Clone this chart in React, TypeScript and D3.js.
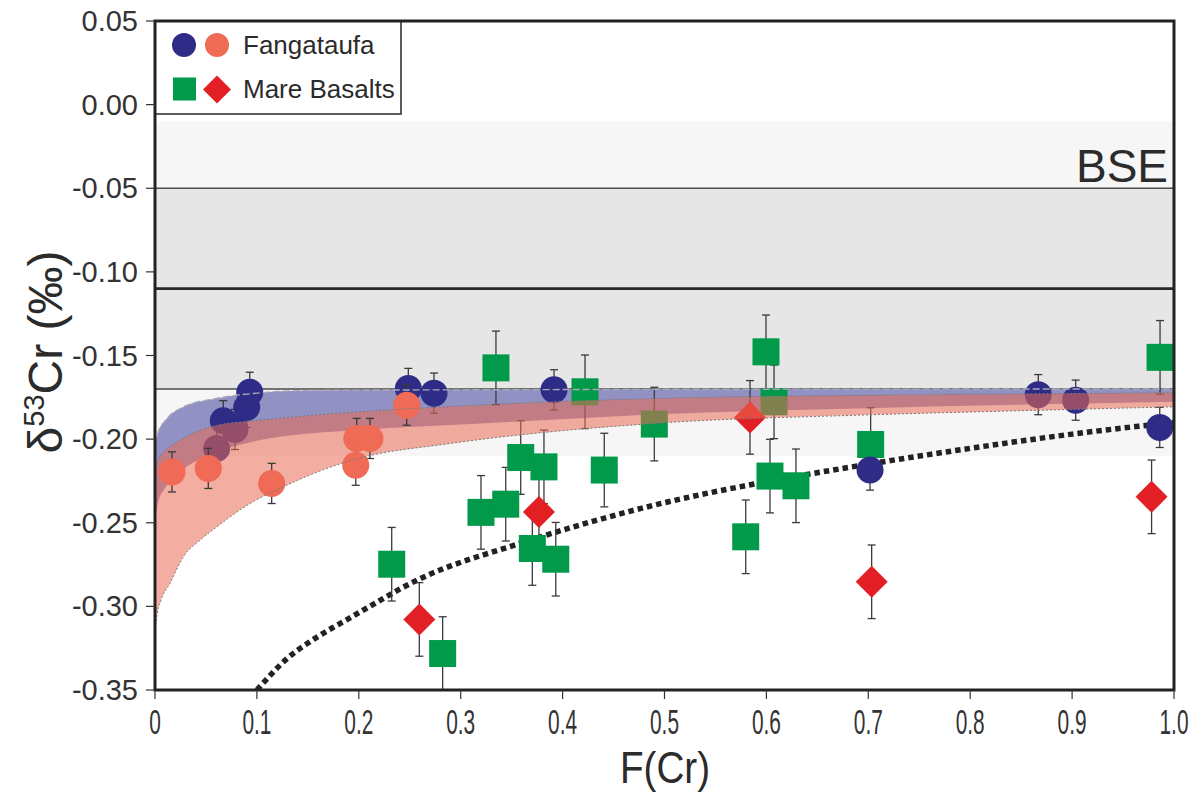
import React from "react";
import * as d3 from "d3";

// ---- axis ticks ----
const xTickValues = [0, 0.1, 0.2, 0.3, 0.4, 0.5, 0.6, 0.7, 0.8, 0.9, 1.0];
const xTickLabels = ["0", "0.1", "0.2", "0.3", "0.4", "0.5", "0.6", "0.7", "0.8", "0.9", "1.0"];
const yTickValues = [0.05, 0, -0.05, -0.1, -0.15, -0.2, -0.25, -0.3, -0.35];
const yTickLabels = ["0.05", "0.00", "-0.05", "-0.10", "-0.15", "-0.20", "-0.25", "-0.30", "-0.35"];

// ---- BSE reference band (mean, inner and outer range) ----
const bseMean = -0.11;
const bseInner = [-0.05, -0.17];
const bseOuter = [-0.01, -0.21];

// ---- Fangataufa samples: [F(Cr), d53Cr, 2sd] ----
const fangataufaBlue: [number, number, number][] = [
  [0.067, -0.189, 0.012],
  [0.0605, -0.2056, 0.012],
  [0.0785, -0.1942, 0.012],
  [0.09, -0.181, 0.012],
  [0.093, -0.172, 0.012],
  [0.2486, -0.1697, 0.012],
  [0.2738, -0.1725, 0.012],
  [0.3916, -0.1705, 0.012],
  [0.7017, -0.2185, 0.012],
  [0.8668, -0.1734, 0.012],
  [0.9035, -0.1767, 0.012],
  [0.986, -0.193, 0.012],
];
const fangataufaRed: [number, number, number][] = [
  [0.0167, -0.2196, 0.012],
  [0.0523, -0.2175, 0.012],
  [0.1145, -0.2265, 0.012],
  [0.197, -0.2156, 0.012],
  [0.198, -0.1996, 0.012],
  [0.211, -0.1996, 0.012],
  [0.247, -0.1797, 0.012],
];

// ---- Mare basalts: [F(Cr), d53Cr, 2sd] ----
const mareSquares: [number, number, number][] = [
  [0.2323, -0.2748, 0.022],
  [0.2823, -0.3282, 0.022],
  [0.3199, -0.2438, 0.022],
  [0.3346, -0.1574, 0.022],
  [0.3442, -0.2389, 0.022],
  [0.3589, -0.211, 0.022],
  [0.3703, -0.2654, 0.022],
  [0.3817, -0.2166, 0.022],
  [0.3933, -0.2718, 0.022],
  [0.422, -0.1717, 0.022],
  [0.4409, -0.2185, 0.022],
  [0.49, -0.191, 0.022],
  [0.5797, -0.2584, 0.022],
  [0.5996, -0.1478, 0.022],
  [0.6035, -0.2221, 0.022],
  [0.6075, -0.1777, 0.022],
  [0.629, -0.2279, 0.022],
  [0.7023, -0.2032, 0.022],
  [0.9863, -0.1511, 0.022],
];
const mareDiamonds: [number, number, number][] = [
  [0.2594, -0.3078, 0.022],
  [0.3768, -0.2435, 0.022],
  [0.5839, -0.187, 0.022],
  [0.7033, -0.2853, 0.022],
  [0.978, -0.2345, 0.022],
];

// ---- model envelopes: [F(Cr), upper, lower] ----
const blueEnvelope: [number, number, number][] = [
  [0.0, -0.203, -0.25],
  [0.003, -0.196, -0.238],
  [0.01, -0.189, -0.229],
  [0.028, -0.1807, -0.218],
  [0.06, -0.1757, -0.208],
  [0.1, -0.1725, -0.201],
  [0.13, -0.1712, -0.198],
  [0.2, -0.1707, -0.1945],
  [0.32, -0.1705, -0.1906],
  [0.515, -0.1702, -0.1847],
  [0.7, -0.1701, -0.1815],
  [1.0, -0.17, -0.1777],
];
const salmonEnvelope: [number, number, number][] = [
  [0.0, -0.219, -0.316],
  [0.002, -0.214, -0.305],
  [0.006, -0.2095, -0.296],
  [0.0147, -0.2045, -0.2863],
  [0.0278, -0.1995, -0.2704],
  [0.045, -0.1945, -0.26],
  [0.0605, -0.1918, -0.2525],
  [0.0932, -0.1893, -0.2385],
  [0.126, -0.1873, -0.2285],
  [0.16, -0.1855, -0.2195],
  [0.2, -0.1837, -0.2115],
  [0.29, -0.1805, -0.2026],
  [0.49, -0.1757, -0.1906],
  [0.7, -0.1738, -0.1855],
  [0.85, -0.173, -0.183],
  [1.0, -0.1723, -0.1807],
];

// ---- dotted model trend: [F(Cr), d53Cr] ----
const dottedTrend: [number, number][] = [
  [0.1, -0.35],
  [0.13, -0.331],
  [0.16, -0.318],
  [0.191, -0.307],
  [0.26, -0.2835],
  [0.36, -0.262],
  [0.5, -0.238],
  [0.6, -0.2255],
  [0.7, -0.215],
  [0.8, -0.2055],
  [0.9, -0.197],
  [1.0, -0.19],
];

const W = 1202;
const H = 795;
const X0 = 155;
const X1 = 1174;
const Y0 = 21;
const Y1 = 690;

const NAVY = "#2e2c86";
const SALMON = "#ef6b55";
const GREEN = "#009a4a";
const RED = "#e31f26";
const FONT = "'Liberation Sans', Arial, Helvetica, sans-serif";

export default function App() {
  const x = d3.scaleLinear().domain([0, 1]).range([X0, X1]);
  const y = d3.scaleLinear().domain([-0.35, 0.05]).range([Y1, Y0]);

  const area = d3
    .area<[number, number, number]>()
    .x((d) => x(d[0]))
    .y0((d) => y(d[2]))
    .y1((d) => y(d[1]))
    .curve(d3.curveMonotoneX);
  const upper = d3
    .line<[number, number, number]>()
    .x((d) => x(d[0]))
    .y((d) => y(d[1]))
    .curve(d3.curveMonotoneX);
  const lower = d3
    .line<[number, number, number]>()
    .x((d) => x(d[0]))
    .y((d) => y(d[2]))
    .curve(d3.curveMonotoneX);
  const trend = d3
    .line<[number, number]>()
    .x((d) => x(d[0]))
    .y((d) => y(d[1]))
    .curve(d3.curveMonotoneX);

  const errBar = (d: [number, number, number], key: string) => {
    const cx = x(d[0]);
    const top = y(d[1] + d[2]);
    const bot = y(d[1] - d[2]);
    return (
      <g key={key} stroke="#3a3a3a" strokeWidth={1.3}>
        <line x1={cx} x2={cx} y1={top} y2={bot} />
        <line x1={cx - 4} x2={cx + 4} y1={top} y2={top} />
        <line x1={cx - 4} x2={cx + 4} y1={bot} y2={bot} />
      </g>
    );
  };

  const sq = 27;
  const dm = 16;
  const r = 13.5;

  return (
    <svg
      width={W}
      height={H}
      style={{ position: "absolute", left: 0, top: 0, background: "#fff" }}
      fontFamily={FONT}
    >
      <defs>
        <clipPath id="plotClip">
          <rect x={X0} y={Y0} width={X1 - X0} height={Y1 - Y0} />
        </clipPath>
      </defs>

      {/* BSE bands */}
      <rect x={X0} width={X1 - X0} y={y(bseOuter[0])} height={y(bseOuter[1]) - y(bseOuter[0])} fill="#f6f6f6" />
      <rect x={X0} width={X1 - X0} y={y(bseInner[0])} height={y(bseInner[1]) - y(bseInner[0])} fill="#e6e6e6" />
      <line x1={X0} x2={X1} y1={y(bseInner[0])} y2={y(bseInner[0])} stroke="#4a4a4a" strokeWidth={1.3} />
      <line x1={X0} x2={X1} y1={y(bseInner[1])} y2={y(bseInner[1])} stroke="#4a4a4a" strokeWidth={1.5} />
      <line x1={X0} x2={X1} y1={y(bseMean)} y2={y(bseMean)} stroke="#2a2a2a" strokeWidth={2.6} />
      <text x={1168} y={182} fontSize={46} textAnchor="end" fill="#2b2b2b">BSE</text>

      <g clipPath="url(#plotClip)">
        {/* blue model envelope */}
        <path d={area(blueEnvelope) || ""} fill="#9191c4" />

        {/* dotted trend */}
        <path d={trend(dottedTrend) || ""} fill="none" stroke="#222" strokeWidth={5.5} strokeDasharray="5.5,4" />

        {/* error bars */}
        {mareSquares.map((d, i) => errBar(d, "es" + i))}
        {mareDiamonds.map((d, i) => errBar(d, "ed" + i))}
        {fangataufaBlue.map((d, i) => errBar(d, "eb" + i))}

        {/* markers drawn beneath the salmon envelope */}
        {mareSquares.map((d, i) => (
          <rect key={"s" + i} x={x(d[0]) - sq / 2} y={y(d[1]) - sq / 2} width={sq} height={sq} fill={GREEN} />
        ))}
        {mareDiamonds.map((d, i) => (
          <path
            key={"d" + i}
            d={`M${x(d[0])},${y(d[1]) - dm}L${x(d[0]) + dm},${y(d[1])}L${x(d[0])},${y(d[1]) + dm}L${x(d[0]) - dm},${y(d[1])}Z`}
            fill={RED}
          />
        ))}
        {fangataufaBlue.map((d, i) => (
          <circle key={"b" + i} cx={x(d[0])} cy={y(d[1])} r={r} fill={NAVY} />
        ))}

        {/* salmon model envelope, translucent */}
        <path d={area(salmonEnvelope) || ""} fill="#eb6c53" fillOpacity={0.55} />

        {fangataufaRed.map((d, i) => errBar(d, "er" + i))}
        {fangataufaRed.map((d, i) => (
          <circle key={"r" + i} cx={x(d[0])} cy={y(d[1])} r={r} fill={SALMON} />
        ))}

        {/* envelope outlines */}
        <path d={upper(blueEnvelope) || ""} fill="none" stroke="#a8a8b8" strokeWidth={1.4} strokeDasharray="7,3" />
        <path d={upper(salmonEnvelope) || ""} fill="none" stroke="#7a7a7a" strokeWidth={1} strokeDasharray="2,2" />
        <path d={lower(salmonEnvelope) || ""} fill="none" stroke="#7a7a7a" strokeWidth={1} strokeDasharray="2,2" />
      </g>

      {/* legend */}
      <rect x={X0} y={Y0} width={246} height={93} fill="#fff" stroke="#333" strokeWidth={1.6} />
      <circle cx={184} cy={45} r={12} fill={NAVY} />
      <circle cx={217} cy={45} r={12} fill={SALMON} />
      <text x={243} y={54} fontSize={26} fill="#2b2b2b">Fangataufa</text>
      <rect x={173} y={77.5} width={23} height={23} fill={GREEN} />
      <path d="M217,75.5L231,89.5L217,103.5L203,89.5Z" fill={RED} />
      <text x={243} y={98} fontSize={26} fill="#2b2b2b">Mare Basalts</text>

      {/* frame */}
      <rect x={X0} y={Y0} width={X1 - X0} height={Y1 - Y0} fill="none" stroke="#222" strokeWidth={3} />

      {/* y axis ticks */}
      {yTickValues.map((v, i) => (
        <g key={"yt" + i}>
          <line x1={X0 - 9} x2={X0} y1={y(v)} y2={y(v)} stroke="#333" strokeWidth={1.2} />
          <text x={138} y={y(v) + 10} fontSize={29} textAnchor="end" fill="#333">
            {yTickLabels[i]}
          </text>
        </g>
      ))}

      {/* x axis ticks */}
      {xTickValues.map((v, i) => (
        <g key={"xt" + i}>
          <line x1={x(v)} x2={x(v)} y1={Y1} y2={Y1 + 9} stroke="#333" strokeWidth={1.2} />
          <text
            transform={`translate(${x(v)},${734}) scale(0.58,1)`}
            fontSize={36}
            textAnchor="middle"
            fill="#333"
          >
            {xTickLabels[i]}
          </text>
        </g>
      ))}

      {/* axis titles */}
      <text transform={`translate(665,783) scale(0.86,1)`} fontSize={45} textAnchor="middle" fill="#2b2b2b">
        F(Cr)
      </text>
      <text transform="translate(62,352) rotate(-90)" fontSize={48} textAnchor="middle" fill="#2b2b2b">
        δ<tspan fontSize={29} dy={-18}>53</tspan>
        <tspan dy={18}>Cr (‰)</tspan>
      </text>
    </svg>
  );
}
